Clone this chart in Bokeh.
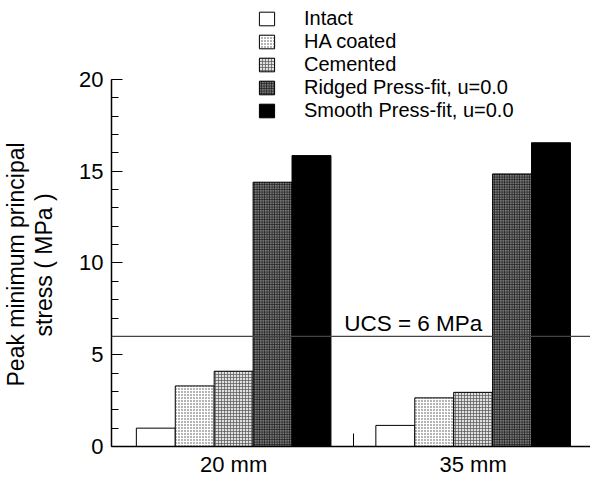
from bokeh.plotting import figure
from bokeh.models import (ColumnDataSource, Range1d, FixedTicker, Span, Label,
                          Legend, LegendItem, Title)
from bokeh.transform import dodge
from bokeh.embed import file_html
from bokeh.resources import INLINE

# ---- data ----
groups = ["20 mm", "35 mm"]
series = ["Intact", "HA coated", "Cemented",
          "Ridged Press-fit, u=0.0", "Smooth Press-fit, u=0.0"]
intact = [1.0, 1.15]
ha_coated = [3.3, 2.65]
cemented = [4.1, 2.95]
ridged = [14.4, 14.85]
smooth = [15.85, 16.55]
ucs = 6
y_ticks = [0, 5, 10, 15, 20]
y_label_lines = ["Peak minimum principal", "stress ( MPa )"]

FONT = "Liberation Sans"

centers = [i + 0.5 for i in range(len(groups))]
cols = ["intact", "ha", "cem", "ridged", "smooth"]
source = ColumnDataSource(dict(x=centers, intact=intact, ha=ha_coated,
                               cem=cemented, ridged=ridged, smooth=smooth))

# frame extends above the axis so the legend can sit over the plot
y_view_top = 24.3
x_pad = 0.01

p = figure(width=590, height=480, output_backend="svg", toolbar_location=None,
           x_range=Range1d(-x_pad, len(groups) - x_pad),
           y_range=Range1d(y_ticks[0], y_view_top),
           min_border_left=111, min_border_top=0, min_border_right=0,
           min_border_bottom=34)
p.outline_line_color = None
p.xgrid.visible = False
p.ygrid.visible = False
p.background_fill_color = "white"
p.border_fill_color = "white"

bw = 0.1625
styles = [
    dict(fill_color="white"),
    dict(fill_color="white", hatch_pattern="dot", hatch_scale=3, hatch_color="#444444", hatch_weight=0.9),
    dict(fill_color="#e0e0e0", hatch_pattern="cross", hatch_scale=3, hatch_color="#555555", hatch_weight=0.7),
    dict(fill_color="#777777", hatch_pattern="cross", hatch_scale=2.5, hatch_color="#1a1a1a", hatch_weight=0.8),
    dict(fill_color="black"),
]

items = []
n = len(series)
for i, (name, col) in enumerate(zip(series, cols)):
    r = p.vbar(x=dodge("x", (i - (n - 1) / 2) * bw, range=p.x_range), top=col,
               width=bw, bottom=0, source=source, line_color="black",
               line_width=1, **styles[i])
    items.append(LegendItem(label=name, renderers=[r]))

# UCS line and label
p.add_layout(Span(location=ucs, dimension="width", line_color="#444444",
                  line_width=1.3))
p.add_layout(Label(x=1.25, y=ucs, text=f"UCS = {ucs} MPa", text_align="center",
                   text_baseline="alphabetic", y_offset=13,
                   text_font=FONT, text_font_size="22.5px", text_color="black"))

legend = Legend(items=items, location=(146, 324), padding=0, margin=0,
                spacing=0, glyph_width=19, glyph_height=17, label_standoff=28,
                label_height=17,
                label_text_font=FONT, label_text_font_size="20px",
                label_text_color="black", border_line_color=None,
                background_fill_alpha=0)
p.add_layout(legend, "center")

# axes
xa = p.xaxis[0]
xa.ticker = FixedTicker(ticks=centers, minor_ticks=[1.0])
xa.major_label_overrides = {c: g for c, g in zip(centers, groups)}
xa.major_tick_in = 0
xa.major_tick_out = 0
xa.minor_tick_in = 13
xa.minor_tick_out = 0
xa.major_label_standoff = 5
xa.major_label_text_font = FONT
xa.major_label_text_font_size = "22px"
xa.major_label_text_color = "black"
xa.axis_line_width = 1.5
xa.axis_line_color = "black"

ya = p.yaxis[0]
ya.bounds = (y_ticks[0], y_ticks[-1])
ya.ticker = FixedTicker(ticks=y_ticks, minor_ticks=list(range(y_ticks[0], y_ticks[-1] + 1)))
ya.major_tick_in = 11
ya.major_tick_out = 0
ya.minor_tick_in = 7
ya.minor_tick_out = 0
ya.major_label_standoff = 8
ya.major_label_text_font = FONT
ya.major_label_text_font_size = "22px"
ya.major_label_text_color = "black"
ya.axis_line_width = 1.5
ya.axis_line_color = "black"

# blank spacer panel between the tick labels and the y label
p.add_layout(Title(text=" ", standoff=16, text_font=FONT, text_font_size="2px",
                   text_color="white"), "left")

# two-line y-axis label (inner line first, outer line second)
for text, off in [(y_label_lines[1], 110), (y_label_lines[0], 60)]:
    p.add_layout(Title(text=text, align="left", offset=off, standoff=0,
                       text_font=FONT, text_font_size="23px",
                       text_font_style="normal", text_color="black"), "left")

open("out.html", "w").write(file_html(p, INLINE))
